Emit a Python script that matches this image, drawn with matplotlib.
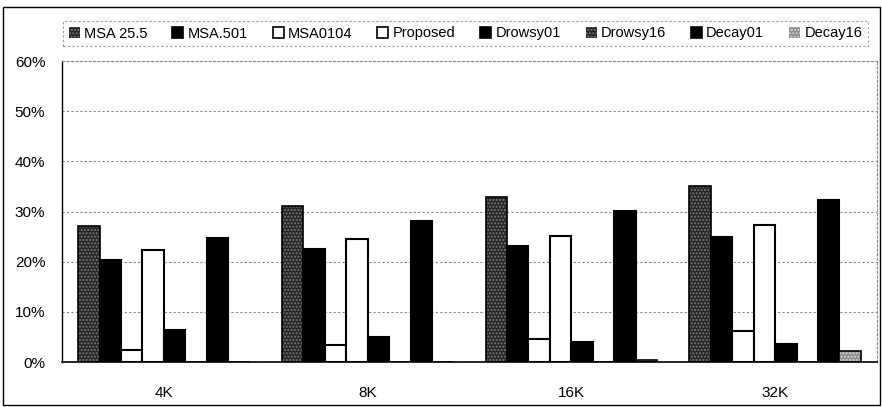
import numpy as np
import matplotlib
matplotlib.use('Agg')
import matplotlib.pyplot as plt
from matplotlib.patches import Patch, Rectangle

plt.rcParams['font.family'] = ['Liberation Sans', 'DejaVu Sans']

groups = ['4K', '8K', '16K', '32K']
series = ['MSA 25.5', 'MSA.501', 'MSA0104', 'Proposed',
          'Drowsy01', 'Drowsy16', 'Decay01', 'Decay16']

msa255 = [27.2, 31.0, 32.9, 35.0]
msa501 = [20.3, 22.6, 23.1, 24.9]
msa0104 = [2.4, 3.3, 4.5, 6.2]
proposed = [22.3, 24.6, 25.1, 27.4]
drowsy01 = [6.4, 4.9, 4.0, 3.5]
drowsy16 = [0.0, 0.0, 0.0, 0.0]
decay01 = [24.7, 28.2, 30.1, 32.3]
decay16 = [0.0, 0.0, 0.3, 2.2]

values = [msa255, msa501, msa0104, proposed, drowsy01, drowsy16, decay01, decay16]

# (facecolor, hatch, hatch colour)
styles = [('#262626', '.....', '#7a7a7a'),
          ('black', None, None),
          ('white', None, None),
          ('white', None, None),
          ('black', None, None),
          ('#262626', '.....', '#7a7a7a'),
          ('black', None, None),
          ('#8c8c8c', '.....', '#d8d8d8')]

fig = plt.figure(figsize=(8.82, 4.07), dpi=100)
ax = fig.add_axes([62/882, 1-362/407, 815/882, 301/407])

x = np.arange(len(groups))
w = 1/9.5
handles = []
for i, (vals, (fc, hatch, hc)) in enumerate(zip(values, styles)):
    pos = x + (i - 3.5)*w
    if hatch:
        ax.bar(pos, vals, w, color=fc, hatch=hatch, edgecolor=hc, linewidth=0, zorder=2)
        ax.bar(pos, vals, w, fill=False, edgecolor='black', linewidth=1.2, zorder=3)
        handles.append(Patch(facecolor=fc, hatch=hatch, edgecolor=hc, linewidth=0))
    else:
        ax.bar(pos, vals, w, color=fc, edgecolor='black', linewidth=1.5, zorder=2)
        handles.append(Patch(facecolor=fc, edgecolor='black', linewidth=1.2))

ax.set_xlim(-0.5, 3.5)
ax.set_ylim(0, 60)
ax.set_yticks(range(0, 61, 10))
ax.set_yticklabels(['{}%'.format(v) for v in range(0, 61, 10)])
ax.set_xticks(x)
ax.set_xticklabels(groups)
ax.tick_params(axis='both', length=0, labelsize=11)
ax.tick_params(axis='y', pad=12)
ax.tick_params(axis='x', pad=17)
ax.yaxis.grid(True, color='#888888', linestyle=(0, (2, 2)), linewidth=0.8)
ax.set_axisbelow(True)
for s in ['top', 'right']:
    ax.spines[s].set_color('#888888')
    ax.spines[s].set_linestyle((0, (2, 2)))
    ax.spines[s].set_linewidth(0.8)
ax.spines['left'].set_linewidth(1.0)
ax.spines['bottom'].set_linewidth(1.2)

leg = fig.legend(handles, series, ncol=8, loc='center', mode='expand',
                 bbox_to_anchor=(63/882, 1-52/407, 805/882, 37/407),
                 fontsize=10.5, handlelength=0.75, handleheight=0.75,
                 handletextpad=0.3, columnspacing=0.8, fancybox=False,
                 borderaxespad=0)
leg.get_frame().set_edgecolor('#888888')
leg.get_frame().set_linestyle((0, (2, 2)))
leg.get_frame().set_linewidth(0.8)

fig.patches.append(Rectangle((3/882, 2/407), 877/882, 398/407, transform=fig.transFigure,
                             fill=False, edgecolor='black', linewidth=1.0))

fig.savefig('out.png', dpi=100)
